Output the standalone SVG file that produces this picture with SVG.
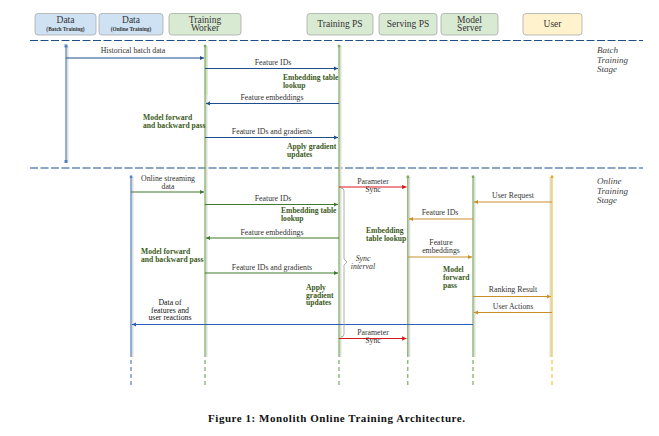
<svg xmlns="http://www.w3.org/2000/svg" width="659" height="436" viewBox="0 0 659 436">
<defs>
<style>
text{font-family:"Liberation Serif","DejaVu Serif",serif;}
.hdr{font-size:9.5px;fill:#333;text-anchor:middle;}
.sub{font-size:5.4px;fill:#333;text-anchor:middle;font-weight:bold;}
.box{stroke:#aaa;stroke-width:0.8;}
.bl{fill:#cfe2f3;}
.gr{fill:#d9ead3;}
.ye{fill:#fff2cc;}
.lbl{font-size:7.8px;fill:#333;text-anchor:middle;}
.dk{fill:#111;}
.note{font-size:7.6px;fill:#3b5a1a;font-weight:bold;}
.stage{font-size:9px;fill:#444;font-style:italic;}
.sep{stroke:#1f4e8c;stroke-width:1.2;stroke-dasharray:8 2.5;fill:none;}
.shadow{stroke:#ddd;stroke-width:2;fill:none;}
.ll{stroke-width:1.2;fill:none;}
.dash{stroke-width:1.2;fill:none;stroke-dasharray:4 3;}
.ab{stroke:#1f4e8c;stroke-width:1.1;fill:none;}
.ag{stroke:#3e7a2e;stroke-width:1.1;fill:none;}
.ao{stroke:#c9902a;stroke-width:1.1;fill:none;}
.ar{stroke:#d7191c;stroke-width:1.1;fill:none;}
.au{stroke:#2e5fb8;stroke-width:1.1;fill:none;}
</style>
<marker id="mb" viewBox="0 0 6 6" refX="6" refY="3" markerWidth="4" markerHeight="4" orient="auto"><path d="M0,0L6,3L0,6z" fill="#1f4e8c"/></marker>
<marker id="mg" viewBox="0 0 6 6" refX="6" refY="3" markerWidth="4" markerHeight="4" orient="auto"><path d="M0,0L6,3L0,6z" fill="#3e7a2e"/></marker>
<marker id="mo" viewBox="0 0 6 6" refX="6" refY="3" markerWidth="4" markerHeight="4" orient="auto"><path d="M0,0L6,3L0,6z" fill="#c9902a"/></marker>
<marker id="mr" viewBox="0 0 6 6" refX="6" refY="3" markerWidth="4" markerHeight="4" orient="auto"><path d="M0,0L6,3L0,6z" fill="#d7191c"/></marker>
<marker id="mu" viewBox="0 0 6 6" refX="6" refY="3" markerWidth="4" markerHeight="4" orient="auto"><path d="M0,0L6,3L0,6z" fill="#2e5fb8"/></marker>
</defs>
<rect width="659" height="436" fill="#fff"/>

<!-- separators -->
<line class="sep" x1="30" y1="40.5" x2="643" y2="40.5"/>
<line class="sep" x1="30" y1="168" x2="643" y2="168"/>

<text class="stage" x="597" y="53">Batch</text>
<text class="stage" x="597" y="62.5">Training</text>
<text class="stage" x="597" y="72">Stage</text>
<text class="stage" x="597" y="184">Online</text>
<text class="stage" x="597" y="193.5">Training</text>
<text class="stage" x="597" y="203">Stage</text>

<g id="data-batch">
<rect class="box bl" x="35" y="13.5" width="61" height="21.5" rx="3"/>
<text class="hdr" x="65.5" y="23">Data</text>
<text class="sub" x="65.5" y="31">(Batch Training)</text>
<line class="shadow" x1="67.5" y1="46" x2="67.5" y2="162"/>
<line class="ll" stroke="#4f81bd" x1="66" y1="46" x2="66" y2="162"/>
<rect x="64.5" y="44.5" width="3" height="3" fill="#4f81bd"/>
<rect x="64.5" y="160" width="3" height="3" fill="#4f81bd"/>
</g>

<g id="data-online">
<rect class="box bl" x="99" y="13.5" width="64" height="21.5" rx="3"/>
<text class="hdr" x="131" y="23">Data</text>
<text class="sub" x="131" y="31">(Online Training)</text>
<line class="shadow" x1="132.5" y1="177" x2="132.5" y2="357"/>
<line class="ll" stroke="#4f81bd" x1="131" y1="177" x2="131" y2="357"/>
<line class="dash" stroke="#4f81bd" x1="131" y1="360" x2="131" y2="386"/>
<rect x="129.8" y="175.5" width="2.5" height="2.5" fill="#4f81bd"/>
</g>

<g id="training-worker">
<rect class="box gr" x="169" y="13.5" width="72" height="21.5" rx="3"/>
<text class="hdr" x="205" y="22.5">Training</text>
<text class="hdr" x="205" y="31">Worker</text>
<line class="shadow" x1="206.5" y1="46" x2="206.5" y2="357"/>
<rect x="205" y="47" width="2.5" height="48" fill="#cfe3c4"/>
<line class="ll" stroke="#7aab5c" x1="205" y1="46" x2="205" y2="357"/>
<line class="dash" stroke="#7aab5c" x1="205" y1="360" x2="205" y2="386"/>
<rect x="203.8" y="44.8" width="2.5" height="2.5" fill="#7aab5c"/>
</g>

<g id="training-ps">
<rect class="box gr" x="307" y="13.5" width="66" height="21.5" rx="3"/>
<text class="hdr" x="340" y="27">Training PS</text>
<line class="shadow" x1="340.5" y1="46" x2="340.5" y2="357"/>
<line class="ll" stroke="#7aab5c" x1="339" y1="46" x2="339" y2="357"/>
<line class="dash" stroke="#7aab5c" x1="339" y1="360" x2="339" y2="386"/>
<rect x="337.8" y="44.8" width="2.5" height="2.5" fill="#7aab5c"/>
</g>

<g id="serving-ps">
<rect class="box gr" x="379" y="13.5" width="58" height="21.5" rx="3"/>
<text class="hdr" x="408" y="27">Serving PS</text>
<line class="shadow" x1="409.3" y1="177" x2="409.3" y2="357"/>
<line class="ll" stroke="#7aab5c" x1="407.8" y1="177" x2="407.8" y2="357"/>
<line class="dash" stroke="#7aab5c" x1="407.8" y1="360" x2="407.8" y2="386"/>
<rect x="406.6" y="175.5" width="2.5" height="2.5" fill="#7aab5c"/>
</g>

<g id="model-server">
<rect class="box gr" x="441" y="13.5" width="57" height="21.5" rx="3"/>
<text class="hdr" x="469.5" y="22.5">Model</text>
<text class="hdr" x="469.5" y="31">Server</text>
<line class="shadow" x1="474.5" y1="177" x2="474.5" y2="357"/>
<line class="ll" stroke="#7aab5c" x1="473" y1="177" x2="473" y2="357"/>
<line class="dash" stroke="#7aab5c" x1="473" y1="360" x2="473" y2="386"/>
<rect x="471.8" y="175.5" width="2.5" height="2.5" fill="#7aab5c"/>
</g>

<g id="user">
<rect class="box ye" x="523" y="13.5" width="59" height="21.5" rx="3"/>
<text class="hdr" x="552.5" y="27">User</text>
<line class="shadow" x1="550.5" y1="177" x2="550.5" y2="357"/>
<line class="ll" stroke="#f4c430" x1="552" y1="177" x2="552" y2="357"/>
<line class="dash" stroke="#f4c430" x1="552" y1="360" x2="552" y2="386"/>
<rect x="550.8" y="175.5" width="2.5" height="2.5" fill="#e0a820"/>
</g>

<g id="connectors">
<!-- batch stage -->
<line class="ab" x1="66" y1="58" x2="204" y2="58" marker-end="url(#mb)"/>
<line class="ab" x1="205" y1="68.5" x2="338" y2="68.5" marker-end="url(#mb)"/>
<line class="ab" x1="339" y1="103.5" x2="206" y2="103.5" marker-end="url(#mb)"/>
<line class="ab" x1="205" y1="137.5" x2="338" y2="137.5" marker-end="url(#mb)"/>
<!-- online stage -->
<line class="ag" x1="131" y1="192" x2="204" y2="192" marker-end="url(#mg)"/>
<line class="ar" x1="339" y1="187" x2="406.5" y2="187" marker-end="url(#mr)"/>
<line class="ag" x1="205" y1="204.5" x2="338" y2="204.5" marker-end="url(#mg)"/>
<line class="ag" x1="339" y1="238" x2="206" y2="238" marker-end="url(#mg)"/>
<line class="ag" x1="205" y1="273" x2="338" y2="273" marker-end="url(#mg)"/>
<line class="ao" x1="552" y1="202" x2="474" y2="202" marker-end="url(#mo)"/>
<line class="ao" x1="473" y1="219" x2="409" y2="219" marker-end="url(#mo)"/>
<line class="ao" x1="408" y1="257" x2="472" y2="257" marker-end="url(#mo)"/>
<line class="ao" x1="473" y1="296.5" x2="551" y2="296.5" marker-end="url(#mo)"/>
<line class="ao" x1="552" y1="312.5" x2="474" y2="312.5" marker-end="url(#mo)"/>
<line class="au" x1="473" y1="324.5" x2="132" y2="324.5" marker-end="url(#mu)"/>
<line class="ar" x1="339" y1="338.5" x2="406.5" y2="338.5" marker-end="url(#mr)"/>
<!-- sync interval brace -->
<path d="M341,188 Q344,188 344,191 L344,259 L347,262 L344,265 L344,334 Q344,337 341,337" stroke="#999" stroke-width="0.8" fill="none"/>
</g>

<!-- message labels -->
<text class="lbl" x="133" y="53">Historical batch data</text>
<text class="lbl" x="273" y="65">Feature IDs</text>
<text class="note" x="283" y="80">Embedding table</text>
<text class="note" x="283" y="88">lookup</text>
<text class="lbl" x="272" y="100">Feature embeddings</text>
<text class="note" x="143" y="120">Model forward</text>
<text class="note" x="143" y="128">and backward pass</text>
<text class="lbl" x="272" y="134">Feature IDs and gradients</text>
<text class="note" x="287" y="149">Apply gradient</text>
<text class="note" x="287" y="157">updates</text>

<text class="lbl" x="168" y="181">Online streaming</text>
<text class="lbl" x="168" y="189">data</text>
<text class="lbl" x="373" y="184">Parameter</text>
<text class="lbl" x="373" y="192">Sync</text>
<text class="lbl" x="273" y="200.5">Feature IDs</text>
<text class="note" x="281" y="213">Embedding table</text>
<text class="note" x="281" y="221">lookup</text>
<text class="lbl" x="272" y="234.5">Feature embeddings</text>
<text class="note" x="141" y="254">Model forward</text>
<text class="note" x="141" y="262">and backward pass</text>
<text class="lbl" x="272" y="269.5">Feature IDs and gradients</text>
<text class="note" x="306" y="290">Apply</text>
<text class="note" x="306" y="297.5">gradient</text>
<text class="note" x="306" y="305">updates</text>
<text class="lbl" x="363" y="261" font-style="italic">Sync</text>
<text class="lbl" x="363" y="269" font-style="italic">interval</text>
<text class="lbl" x="513" y="198">User Request</text>
<text class="lbl" x="440" y="215">Feature IDs</text>
<text class="note" x="366" y="233">Embedding</text>
<text class="note" x="366" y="241">table lookup</text>
<text class="lbl" x="441" y="245">Feature</text>
<text class="lbl" x="441" y="253">embeddings</text>
<text class="note" x="443" y="272">Model</text>
<text class="note" x="443" y="280">forward</text>
<text class="note" x="443" y="288">pass</text>
<text class="lbl" x="513" y="292">Ranking Result</text>
<text class="lbl" x="513" y="308.5">User Actions</text>
<text class="lbl dk" x="170" y="305">Data of</text>
<text class="lbl dk" x="170" y="312.5">features and</text>
<text class="lbl dk" x="170" y="320">user reactions</text>
<text class="lbl" x="373" y="335">Parameter</text>
<text class="lbl" x="373" y="342.5">Sync</text>

<text x="336.5" y="422" font-size="11" font-weight="bold" text-anchor="middle" fill="#111" textLength="257" lengthAdjust="spacing">Figure 1: Monolith Online Training Architecture.</text>
</svg>
